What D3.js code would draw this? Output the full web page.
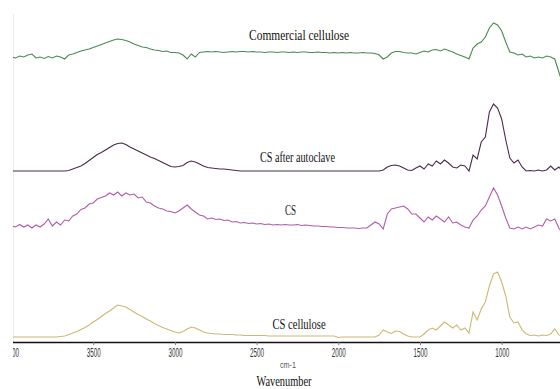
<!DOCTYPE html>
<html>
<head>
<meta charset="utf-8">
<script src="https://cdn.jsdelivr.net/npm/d3@7"></script>
<style>
    body { margin: 0; background: #fff; }
    svg { display: block; }
    .lbl { font-family: "Liberation Serif", "Times New Roman", serif; font-size: 14px; fill: #111; }
    .tick text { font-family: "Liberation Sans", Arial, sans-serif; font-size: 13px; fill: #333; }
</style>
</head>
<body>
<div id="chart"></div>
<script>
// FTIR spectra, sampled every 25 cm-1 (values in arbitrary units, stacked)
var wavenumbers = d3.range(4000, 600, -25);

var commercialCellulose = [
    285, 284, 286, 285, 287, 288, 284, 285, 283.5, 285.5,
    284, 286, 285, 283, 287, 288, 289.5, 291, 292, 293,
    294.5, 296, 297.5, 299, 300.5, 302, 303, 302.5, 301.5, 300,
    298, 296.5, 295, 294.5, 293, 292, 291.5, 290.5, 291, 289.5,
    289.5, 289, 287, 283, 288, 285, 289.5, 290, 290.5, 290,
    290.5, 290, 289.5, 290, 290.5, 290, 290.5, 290.5, 290, 290.5,
    290, 290, 289.5, 290, 290, 289.5, 290, 290, 289.5, 290,
    289.5, 290, 290, 289.5, 289.5, 290, 289.5, 289.5, 289, 289.5,
    289, 289.5, 289, 289.5, 289, 289, 289.5, 289, 289, 288.5,
    287, 283, 285, 289, 290.5, 290.5, 289.5, 289, 289, 288,
    289.5, 291, 290, 292, 292.5, 291, 293, 291.5, 290, 288,
    286.5, 285, 283, 294, 298, 300, 305, 314, 319, 317,
    311, 300, 290, 289, 287, 288, 285, 286, 284, 285,
    284, 286, 285, 283, 270, 257
];

var csAfterAutoclave = [
    171, 171, 171, 171, 171, 171, 171, 171, 171, 171,
    171, 171, 171, 171, 171.5, 173, 174.5, 176, 178.5, 181.5,
    184.5, 187.5, 189.5, 192, 194.5, 197, 198.5, 199, 197.5, 195,
    193, 191, 189, 187, 185, 183.5, 181.5, 179.5, 177.5, 175.5,
    175, 175.5, 176.5, 179.5, 181, 180, 178, 176, 174.5, 174,
    173.5, 173, 173, 172.5, 172, 171.5, 171, 171, 171, 171,
    171, 171, 171, 171, 171, 171, 171, 171, 171, 171,
    171, 171, 171, 171, 171, 171, 171, 171, 171, 171,
    171, 171, 171, 171, 171, 171, 171, 171, 171, 171,
    171, 172, 175, 176.5, 177, 176, 174, 172, 171.5, 174,
    176, 173, 178, 176, 181, 178, 182, 179, 175, 174,
    177, 176, 171, 187, 183, 200, 205, 230, 238, 234,
    223, 202, 184, 179, 182, 175, 171, 171.5, 171, 172,
    171, 172, 176, 172, 175, 170
];

var cs = [
    116, 115, 117.5, 115, 117, 114, 117, 115, 118, 123,
    116, 120, 117, 122, 121, 126, 128, 132.5, 134, 138,
    139, 143, 144.5, 146, 149, 147, 150, 146, 149, 147,
    148, 144, 145, 140, 139, 136, 134, 133, 131, 130.5,
    129, 131, 134, 137, 133, 130, 127, 126, 123, 124,
    122.5, 123, 121.5, 122, 120, 120.5, 119, 119.5, 118.5, 119,
    118, 118.5, 117.5, 118, 117, 117.5, 117, 117.5, 117, 117,
    117.5, 116.5, 117, 116.5, 116, 116, 115.5, 115.5, 115, 115,
    114.5, 114.5, 114, 114, 114, 113.5, 114, 114, 117, 120,
    118, 113, 128, 133, 134, 135, 136, 133, 128, 128,
    124, 120, 125, 122, 126, 123, 120, 125, 119, 120,
    117, 115, 114, 122, 126, 132, 136, 145, 154, 147,
    136, 124, 114, 113, 115, 113, 115, 113, 115, 117,
    116, 123, 121, 123, 114, 108
];

var csCellulose = [
    5, 5, 5, 5, 5, 5, 5, 5, 5, 5,
    5, 5, 5.5, 6, 7.5, 9, 10.5, 12.5, 14.5, 17,
    20, 22.5, 25.5, 28.5, 31, 34, 37, 36, 35, 32.5,
    30, 27.5, 25.5, 23, 21, 18.5, 16.5, 14.5, 13, 11.5,
    10, 9, 10.5, 13, 15, 14, 12, 10, 9, 8.5,
    8, 8, 7.5, 7.5, 7.5, 7, 7, 6.5, 6.5, 6.5,
    6.5, 6.5, 6.5, 6, 6, 6, 6, 6, 6, 6,
    6, 6, 6, 6, 6, 6, 6, 6, 6, 6,
    4.5, 5, 5, 5, 5, 5, 5, 5, 5, 5,
    7, 12, 10, 8.5, 11, 10.5, 8, 6, 5, 5,
    5, 8, 12, 14, 12, 16, 20, 17, 14, 17,
    12, 14, 9, 30, 22, 33, 40, 56, 68, 70,
    60, 46, 25, 19, 20, 12, 8, 6.5, 7, 6,
    7, 6.5, 8, 13, 7, 6
];

var seriesNames = ["Commercial cellulose", "CS after autoclave", "CS", "CS cellulose"];
var seriesValues = [commercialCellulose, csAfterAutoclave, cs, csCellulose];
var seriesColors = ["#4a8a52", "#4a2c4a", "#b25ca8", "#cdb872"];
// where each name sits, in chart coordinates (wavenumber, intensity)
var labelWn = [2240, 2250, 2292, 2240];
var labelVal = [302.5, 180.5, 127, 13];
var labelLen = [100, 75, 11, 53];

var tickValues = [4000, 3500, 3000, 2500, 2000, 1500, 1000];

var width = 560, height = 389;
var svg = d3.select("#chart").append("svg")
    .attr("width", width)
    .attr("height", height);

var x = d3.scaleLinear().domain([4000, 643]).range([11.5, 560]);
var y = d3.scaleLinear().domain([0, 330]).range([342, 12]);

svg.append("clipPath").attr("id", "plotClip")
    .append("rect").attr("x", 13).attr("y", 0).attr("width", width - 13).attr("height", height);

var g = svg.append("g").attr("clip-path", "url(#plotClip)");

// faint left border
g.append("line")
    .attr("x1", 13.5).attr("x2", 13.5)
    .attr("y1", 14).attr("y2", 342)
    .style("stroke", "#ececec");

var line = d3.line()
    .x(function (d) { return x(d[0]); })
    .y(function (d) { return y(d[1]); });

seriesValues.forEach(function (vals, i) {
    var pts = wavenumbers.map(function (wn, k) { return [wn, vals[k]]; });
    g.append("path")
        .attr("d", line(pts))
        .style("fill", "none")
        .style("stroke", seriesColors[i])
        .style("stroke-width", 1.1);
});

var axis = g.append("g")
    .attr("transform", "translate(0," + y(0) + ")")
    .call(d3.axisBottom(x).tickValues(tickValues).tickSize(3).tickSizeOuter(0)
        .tickFormat(function (d) { return String(d); }));
axis.select(".domain").style("stroke", "#111").style("stroke-width", 1.3);
axis.selectAll(".tick line").style("stroke", "#777");
axis.selectAll(".tick text")
    .attr("y", 6)
    .attr("textLength", 14)
    .attr("lengthAdjust", "spacingAndGlyphs");

g.selectAll(".lbl").data(seriesNames)
    .enter().append("text")
    .attr("class", "lbl")
    .attr("x", function (d, i) { return x(labelWn[i]); })
    .attr("y", function (d, i) { return y(labelVal[i]); })
    .attr("text-anchor", "middle")
    .attr("textLength", function (d, i) { return labelLen[i]; })
    .attr("lengthAdjust", "spacingAndGlyphs")
    .text(function (d) { return d; });

svg.append("text")
    .attr("x", 288).attr("y", 368)
    .attr("text-anchor", "middle")
    .attr("textLength", 16)
    .attr("lengthAdjust", "spacingAndGlyphs")
    .style("font-family", "Liberation Sans, Arial, sans-serif")
    .style("font-size", "9px")
    .style("fill", "#555")
    .text("cm-1");

svg.append("text")
    .attr("x", 284).attr("y", 386)
    .attr("text-anchor", "middle")
    .attr("textLength", 55)
    .attr("lengthAdjust", "spacingAndGlyphs")
    .style("font-family", "Liberation Serif, Times New Roman, serif")
    .style("font-size", "14px")
    .style("fill", "#111")
    .text("Wavenumber");
</script>
</body>
</html>
